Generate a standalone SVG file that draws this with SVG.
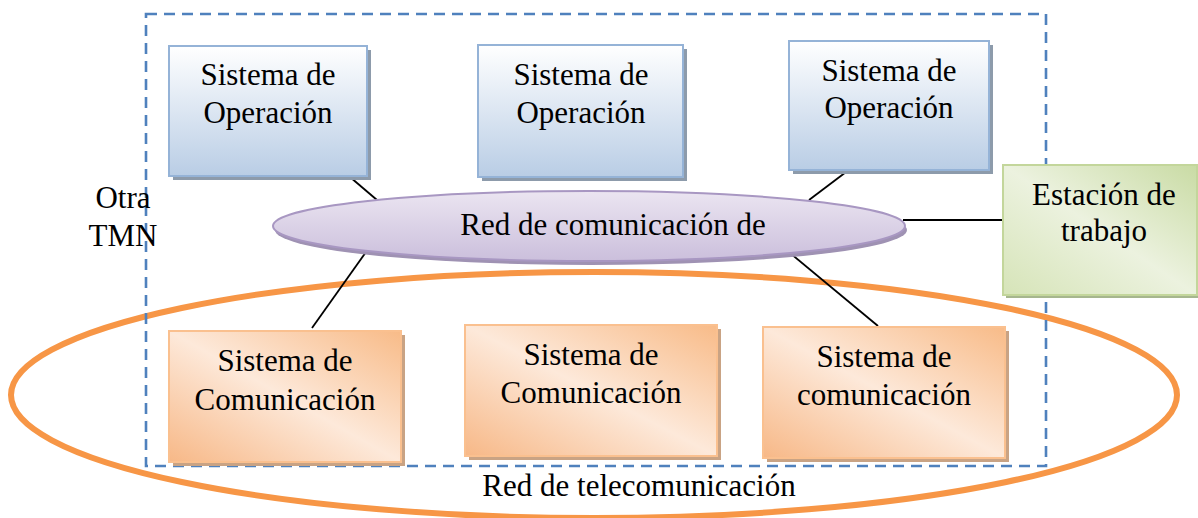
<svg xmlns="http://www.w3.org/2000/svg" width="1198" height="518" viewBox="0 0 1198 518">
  <defs>
    <linearGradient id="gBlue" x1="0" y1="0" x2="0" y2="1">
      <stop offset="0" stop-color="#ffffff"/>
      <stop offset="1" stop-color="#b9cde5"/>
    </linearGradient>
    <linearGradient id="gOrange" x1="0" y1="1" x2="1" y2="0">
      <stop offset="0" stop-color="#f7b887"/>
      <stop offset="0.5" stop-color="#fde9da"/>
      <stop offset="1" stop-color="#f8bb88"/>
    </linearGradient>
    <linearGradient id="gGreen" x1="0" y1="1" x2="1" y2="0">
      <stop offset="0" stop-color="#d6e4b8"/>
      <stop offset="0.5" stop-color="#ecf2df"/>
      <stop offset="1" stop-color="#c9dba4"/>
    </linearGradient>
    <linearGradient id="gPurple" x1="0" y1="0" x2="0" y2="1">
      <stop offset="0" stop-color="#ebe5f1"/>
      <stop offset="1" stop-color="#cbbfdc"/>
    </linearGradient>
    <style>
      .t { font-family: "Liberation Serif", "Times New Roman", serif; font-size: 31px; fill: #000; text-anchor: middle; }
      .ob { fill: url(#gBlue); stroke: #95b3d7; stroke-width: 2; }
      .obs { fill: #8d9bab; }
      .cb { fill: url(#gOrange); stroke: #fac08f; stroke-width: 2; }
      .cbs { fill: #c9a384; }
      .conn { stroke: #000; stroke-width: 1.8; fill: none; }
    </style>
  </defs>
  <rect width="1198" height="518" fill="#ffffff"/>

  <!-- Telecommunication network ellipse -->
  <g id="red-telecom">
    <ellipse cx="594" cy="395" rx="583" ry="123" fill="none" stroke="#f79646" stroke-width="6"/>
    <text class="t" x="639" y="496">Red de telecomunicación</text>
  </g>

  <!-- TMN dashed boundary -->
  <g id="tmn-boundary">
    <rect x="146" y="14" width="900" height="452" fill="none" stroke="#4f81bd" stroke-width="2.6" stroke-dasharray="11,7"/>
  </g>

  <g id="otra-tmn">
    <text class="t" x="123" y="208">Otra</text>
    <text class="t" x="123" y="246">TMN</text>
  </g>

  <!-- connectors -->
  <g id="connectors">
    <line class="conn" x1="350" y1="177" x2="377" y2="200"/>
    <line class="conn" x1="854" y1="166" x2="809" y2="200"/>
    <line class="conn" x1="903" y1="220" x2="1004" y2="220"/>
    <line class="conn" x1="366" y1="252" x2="312" y2="328"/>
    <line class="conn" x1="790" y1="253" x2="878" y2="326"/>
  </g>

  <!-- Operation systems -->
  <g id="so1">
    <rect class="obs" x="173" y="50" width="198" height="130"/>
    <rect class="ob" x="169" y="46" width="198" height="130"/>
    <text class="t" x="268" y="85">Sistema de</text>
    <text class="t" x="268" y="123">Operación</text>
  </g>
  <g id="so2">
    <rect class="obs" x="482" y="49" width="205" height="132"/>
    <rect class="ob" x="478" y="45" width="205" height="132"/>
    <text class="t" x="581" y="85">Sistema de</text>
    <text class="t" x="581" y="123">Operación</text>
  </g>
  <g id="so3">
    <rect class="obs" x="793" y="45" width="200" height="129"/>
    <rect class="ob" x="789" y="41" width="200" height="129"/>
    <text class="t" x="889" y="81">Sistema de</text>
    <text class="t" x="889" y="118">Operación</text>
  </g>

  <!-- Management communication network ellipse -->
  <g id="red-comunicacion">
    <ellipse cx="591" cy="230" rx="316" ry="35" fill="#9f92b3"/>
    <ellipse cx="589" cy="226" rx="316" ry="35" fill="url(#gPurple)" stroke="#a897c2" stroke-width="2"/>
    <text class="t" x="613" y="235">Red de comunicación de</text>
  </g>

  <!-- Workstation -->
  <g id="estacion">
    <rect x="1006" y="168" width="194" height="130" fill="#a6b68e"/>
    <rect x="1003" y="165" width="194" height="130" fill="url(#gGreen)" stroke="#c3d69b" stroke-width="2"/>
    <text class="t" x="1104" y="205">Estación de</text>
    <text class="t" x="1104" y="241">trabajo</text>
  </g>

  <!-- Communication systems -->
  <g id="sc1">
    <rect class="cbs" x="173" y="335" width="232" height="131"/>
    <rect class="cb" x="169" y="331" width="232" height="131"/>
    <text class="t" x="285" y="371">Sistema de</text>
    <text class="t" x="285" y="410">Comunicación</text>
  </g>
  <g id="sc2">
    <rect class="cbs" x="469" y="329" width="252" height="131"/>
    <rect class="cb" x="465" y="325" width="252" height="131"/>
    <text class="t" x="591" y="365">Sistema de</text>
    <text class="t" x="591" y="403">Comunicación</text>
  </g>
  <g id="sc3">
    <rect class="cbs" x="767" y="331" width="242" height="131"/>
    <rect class="cb" x="763" y="327" width="242" height="131"/>
    <text class="t" x="884" y="367">Sistema de</text>
    <text class="t" x="884" y="405">comunicación</text>
  </g>
</svg>
